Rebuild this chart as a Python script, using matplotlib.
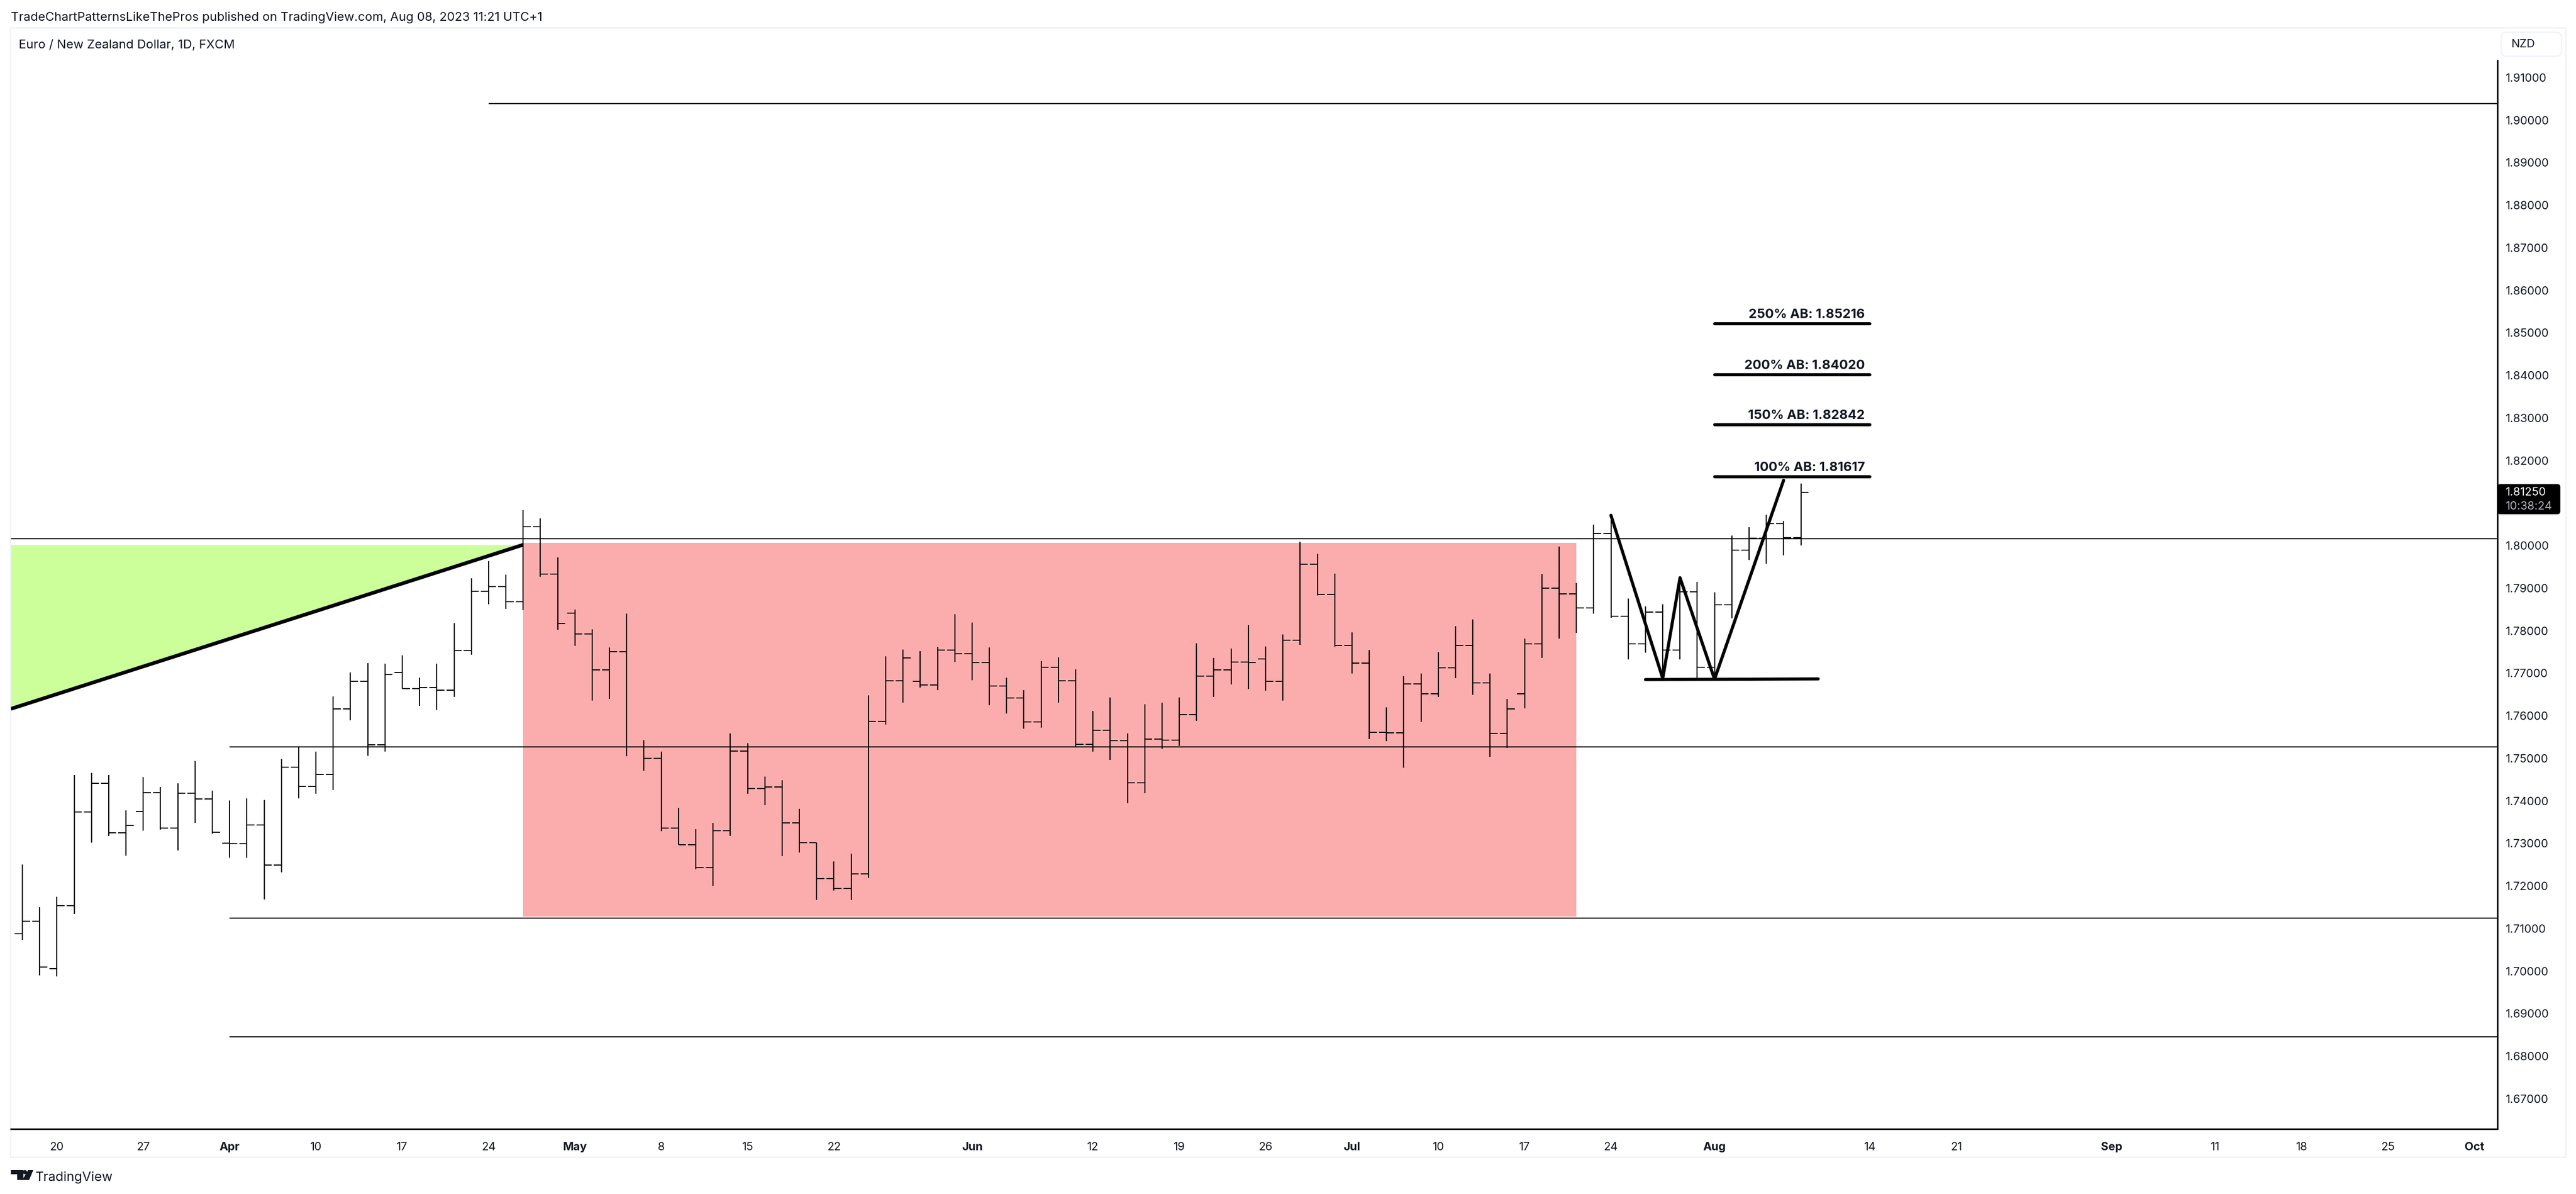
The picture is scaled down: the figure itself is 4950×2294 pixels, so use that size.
import numpy as np
import matplotlib
matplotlib.use("Agg")
import matplotlib.pyplot as plt
from matplotlib.patches import FancyBboxPatch, Rectangle, Polygon, Circle

# Daily EUR/NZD bars
opens = [1.70879, 1.71175, 1.70064, 1.71539, 1.73740, 1.74415, 1.73251, 1.73755, 1.74193, 1.73355,
         1.74185, 1.74044, 1.73006, 1.72999, 1.73436, 1.72495, 1.74793, 1.74341, 1.74623, 1.76157,
         1.76809, 1.75319, 1.77017, 1.76639, 1.76668, 1.76602, 1.77536, 1.78929, 1.79041, 1.78685,
         1.80440, 1.79332, 1.78417, 1.77920, 1.77085, 1.77502, 1.75268, 1.75003, 1.73359, 1.72974,
         1.72437, 1.73299, 1.75175, 1.74294, 1.74327, 1.73485, 1.73021, 1.72172, 1.71940, 1.72285,
         1.75865, 1.76826, 1.76806, 1.76727, 1.77549, 1.77463, 1.77251, 1.76700, 1.76422, 1.75852,
         1.77144, 1.76825, 1.75332, 1.75664, 1.75416, 1.74429, 1.75454, 1.75430, 1.76029, 1.76933,
         1.77083, 1.77265, 1.77340, 1.76811, 1.77780, 1.79564, 1.78857, 1.77658, 1.77242, 1.75613,
         1.75604, 1.76750, 1.76521, 1.77129, 1.77658, 1.76778, 1.75589, 1.76521, 1.77696, 1.79002,
         1.78866, 1.78535, 1.80288, 1.78343, 1.77695, 1.78441, 1.77548, 1.78918, 1.77141, 1.78608,
         1.79893, 1.80170, 1.80521, 1.80191]
highs = [1.72510, 1.71502, 1.71746, 1.74608, 1.74652, 1.74608, 1.73777, 1.74556, 1.74326, 1.74408,
         1.74934, 1.74237, 1.74007, 1.74059, 1.74022, 1.74986, 1.75267, 1.75156, 1.76453, 1.77017,
         1.77239, 1.77224, 1.77425, 1.76898, 1.77224, 1.78181, 1.79233, 1.79634, 1.79315, 1.80837,
         1.80638, 1.79724, 1.78497, 1.78033, 1.77609, 1.78404, 1.75427, 1.75162, 1.73836, 1.73339,
         1.73485, 1.75586, 1.75354, 1.74572, 1.74486, 1.73816, 1.73021, 1.72576, 1.72762, 1.76481,
         1.77396, 1.77555, 1.77522, 1.77622, 1.78391, 1.78192, 1.77609, 1.76899, 1.76601, 1.77290,
         1.77373, 1.77092, 1.76114, 1.76432, 1.75585, 1.76273, 1.76310, 1.76432, 1.77705, 1.77359,
         1.77579, 1.78131, 1.77630, 1.77911, 1.80088, 1.79807, 1.79344, 1.77958, 1.77546, 1.76198,
         1.76933, 1.76994, 1.77495, 1.78108, 1.78267, 1.76994, 1.76395, 1.77813, 1.79330, 1.79980,
         1.79122, 1.80488, 1.80600, 1.78755, 1.78572, 1.78621, 1.79200, 1.79147, 1.78898, 1.80235,
         1.80427, 1.80721, 1.80578, 1.81455]
lows = [1.70731, 1.69893, 1.69878, 1.71339, 1.73014, 1.73177, 1.72717, 1.73303, 1.73325, 1.72829,
        1.73488, 1.73229, 1.72658, 1.72665, 1.71680, 1.72325, 1.74052, 1.74170, 1.74259, 1.75890,
        1.75067, 1.75156, 1.76639, 1.76239, 1.76135, 1.76446, 1.77439, 1.78626, 1.78507, 1.78492,
        1.79266, 1.78020, 1.77648, 1.76355, 1.76389, 1.75043, 1.74711, 1.73292, 1.72974, 1.72397,
        1.72000, 1.73173, 1.74174, 1.73896, 1.72696, 1.72782, 1.71668, 1.71887, 1.71668, 1.72192,
        1.75799, 1.76309, 1.76660, 1.76601, 1.77257, 1.76839, 1.76243, 1.76050, 1.75692, 1.75716,
        1.76310, 1.75280, 1.75163, 1.74967, 1.73942, 1.74185, 1.75224, 1.75299, 1.75884, 1.76446,
        1.76741, 1.76633, 1.76596, 1.76362, 1.77672, 1.78833, 1.77621, 1.76998, 1.75458, 1.75407,
        1.74784, 1.75861, 1.76446, 1.76886, 1.76498, 1.75042, 1.75248, 1.76179, 1.77364, 1.77818,
        1.77952, 1.78396, 1.78307, 1.77328, 1.77487, 1.76880, 1.77320, 1.76880, 1.76880, 1.78286,
        1.79665, 1.79571, 1.79775, 1.80007]
closes = [1.71175, 1.70093, 1.71539, 1.73740, 1.74415, 1.73251, 1.73422, 1.74193, 1.73355, 1.74185,
          1.74044, 1.73266, 1.72999, 1.73436, 1.72495, 1.74793, 1.74341, 1.74623, 1.76157, 1.76809,
          1.75319, 1.76972, 1.76639, 1.76668, 1.76602, 1.77536, 1.78929, 1.79041, 1.78685, 1.80442,
          1.79332, 1.78165, 1.77920, 1.77085, 1.77502, 1.75268, 1.75003, 1.73359, 1.72974, 1.72437,
          1.73299, 1.75175, 1.74294, 1.74327, 1.73485, 1.73021, 1.72172, 1.71940, 1.72285, 1.75865,
          1.76826, 1.77357, 1.76727, 1.77549, 1.77463, 1.77251, 1.76700, 1.76422, 1.75852, 1.77144,
          1.76825, 1.75332, 1.75664, 1.75416, 1.74429, 1.75454, 1.75430, 1.76029, 1.76933, 1.77083,
          1.77265, 1.77251, 1.76811, 1.77780, 1.79564, 1.78857, 1.77658, 1.77242, 1.75613, 1.75604,
          1.76750, 1.76521, 1.77129, 1.77658, 1.76778, 1.75589, 1.76165, 1.77696, 1.79002, 1.78866,
          1.78538, 1.80288, 1.78343, 1.77695, 1.78441, 1.77548, 1.78918, 1.77141, 1.78608, 1.79893,
          1.80170, 1.80521, 1.80191, 1.81250]

# Axis labels (1.81000 is hidden behind the last price tag in the original)
price_ticks = [1.67, 1.68, 1.69, 1.70, 1.71, 1.72, 1.73, 1.74, 1.75, 1.76, 1.77, 1.78, 1.79,
               1.80, 1.82, 1.83, 1.84, 1.85, 1.86, 1.87, 1.88, 1.89, 1.90, 1.91]
date_positions = [2, 7, 12, 17, 22, 27, 32, 37, 42, 47, 55, 62, 67, 72, 77, 82, 87, 92, 98,
                  107, 112, 121, 127, 132, 137, 142]
date_labels = ["20", "27", "Apr", "10", "17", "24", "May", "8", "15", "22", "Jun", "12", "19", "26",
               "Jul", "10", "17", "24", "Aug", "14", "21", "Sep", "11", "18", "25", "Oct"]
month_labels = ["Apr", "May", "Jun", "Jul", "Aug", "Sep", "Oct"]

# Drawings on the chart
level_values = [1.90388, 1.8016, 1.7527, 1.7125, 1.68452]
level_starts = [27, None, 12, 12, 12]
ab_values = [1.81617, 1.82842, 1.84020, 1.85216]
ab_labels = ["100% AB: 1.81617", "150% AB: 1.82842", "200% AB: 1.84020", "250% AB: 1.85216"]
pattern_x = [92, 95, 96, 98, 102]
pattern_y = [1.80712, 1.76880, 1.79245, 1.76860, 1.81536]
neck_x = [94, 104]
neck_y = [1.76851, 1.76867]
wedge_x = [-0.663, 29]
wedge_y = [1.76164, 1.80019]
wedge_top = 1.80019
box_x = [29, 90]
box_y = [1.71277, 1.80062]

# Canvas layout in pixels
W, H = 4950, 2294
DPI = 300
PX = 72 / DPI  # one pixel in points
LEFT, RIGHT, TOP, BOTTOM = 21, 4799, 53, 2169
BAR0, BAR_STEP = 43, 33.18
P0, P0_Y, PX_PER_PRICE = 1.91, 149, 8175


def price_at(y):
    return P0 - (y - P0_Y) / PX_PER_PRICE


fig = plt.figure(figsize=(W / DPI, H / DPI), dpi=DPI, facecolor="white")
plt.rcParams["font.family"] = ["Inter", "Liberation Sans", "DejaVu Sans"]

# Full canvas overlay for the chrome around the chart
chrome = fig.add_axes([0, 0, 1, 1], zorder=0)
chrome.set_xlim(0, W)
chrome.set_ylim(H, 0)
chrome.axis("off")
chrome.add_patch(Rectangle((20, TOP), 4930 - 20, 2223 - TOP, fc="white", ec="#f0f3fa", lw=3 * PX))

ax = fig.add_axes([LEFT / W, 1 - BOTTOM / H, (RIGHT - LEFT) / W, (BOTTOM - TOP) / H], zorder=1)
ax.patch.set_alpha(0)
ax.set_xlim((LEFT - BAR0) / BAR_STEP, (RIGHT - BAR0) / BAR_STEP)
ax.set_ylim(price_at(BOTTOM), price_at(TOP))

# Shaded areas
ax.fill_between(wedge_x, wedge_y, wedge_top, color="#ccff99", lw=0, zorder=1)
ax.add_patch(Rectangle((box_x[0], box_y[0]), box_x[1] - box_x[0], box_y[1] - box_y[0],
                       fc="#fbadad", ec="none", zorder=1))

# OHLC bars
idx = np.arange(len(opens))
tick = 0.44
ax.vlines(idx, lows, highs, color="black", lw=2.2 * PX, zorder=3)
ax.hlines(opens, idx - tick, idx, color="black", lw=2.0 * PX, zorder=3)
ax.hlines(closes, idx, idx + tick, color="black", lw=2.0 * PX, zorder=3)

# Horizontal levels
x_left, x_right = ax.get_xlim()
for value, start in zip(level_values, level_starts):
    ax.plot([x_left if start is None else start, x_right], [value, value],
            color="black", lw=2.2 * PX, zorder=4, solid_capstyle="butt")

# Pattern drawings
ax.plot(wedge_x, wedge_y, color="black", lw=7 * PX, zorder=5, solid_capstyle="butt")
ax.plot(pattern_x, pattern_y, color="black", lw=6 * PX, zorder=5,
        solid_capstyle="round", solid_joinstyle="round")
ax.plot(neck_x, neck_y, color="black", lw=6 * PX, zorder=5, solid_capstyle="round")
for value, label in zip(ab_values, ab_labels):
    ax.plot([98, 107], [value, value], color="black", lw=6 * PX, zorder=5, solid_capstyle="round")
    ax.annotate(label, (106.7, value), xytext=(0, 11 * PX), textcoords="offset points",
                ha="right", va="baseline", fontsize=25 * PX, fontweight="bold", color="#131722")

# Axes
ax.yaxis.tick_right()
ax.set_yticks(price_ticks, [f"{p:.5f}" for p in price_ticks])
ax.set_xticks(date_positions, date_labels)
ax.tick_params(axis="y", length=0, pad=16 * PX, labelsize=22 * PX, labelcolor="#131722")
ax.tick_params(axis="x", length=0, pad=25 * PX, labelsize=22 * PX, labelcolor="#131722")
for lab in ax.get_xticklabels():
    if lab.get_text() in month_labels:
        lab.set_fontweight("bold")
for side in ["left", "top"]:
    ax.spines[side].set_visible(False)
for side in ["right", "bottom"]:
    ax.spines[side].set_linewidth(3 * PX)
ax.spines["right"].set_bounds(price_at(BOTTOM), price_at(116))

# Last price tag and currency button
over = fig.add_axes([0, 0, 1, 1], zorder=2)
over.set_xlim(0, W)
over.set_ylim(H, 0)
over.axis("off")
over.patch.set_alpha(0)
over.add_patch(FancyBboxPatch((4799, 930), 121, 58, boxstyle="round,pad=0,rounding_size=6",
                              fc="black", ec="none"))
over.text(4815, 946, "1.81250", color="white", fontsize=22 * PX, va="center")
over.text(4815, 973, "10:38:24", color="#b2b5be", fontsize=22 * PX, va="center")
over.add_patch(FancyBboxPatch((4806, 62), 116, 46, boxstyle="round,pad=0,rounding_size=10",
                              fc="white", ec="#f0f3fa", lw=2.5 * PX))
over.text(4825, 85, "NZD", color="#131722", fontsize=22 * PX, va="center")

# Header and footer text
over.text(21, 34, "TradeChartPatternsLikeThePros published on TradingView.com, Aug 08, 2023 11:21 UTC+1",
          color="#131722", fontsize=23.7 * PX, va="center")
over.text(36, 87, "Euro / New Zealand Dollar, 1D, FXCM", color="#131722", fontsize=23.7 * PX, va="center")
over.text(68, 2262, "TradingView", color="#131722", fontsize=25 * PX, va="center")

# TradingView logo
over.add_patch(Polygon([(21, 2248), (45, 2248), (45, 2267), (33, 2267), (33, 2256), (21, 2256)],
                       fc="#131722", ec="none"))
over.add_patch(Circle((48, 2252), 4, fc="#131722", ec="none"))
over.add_patch(Polygon([(54, 2248), (64, 2248), (56, 2267), (43, 2267)], fc="#131722", ec="none"))

fig.savefig("out.png", dpi=DPI, facecolor="white")
